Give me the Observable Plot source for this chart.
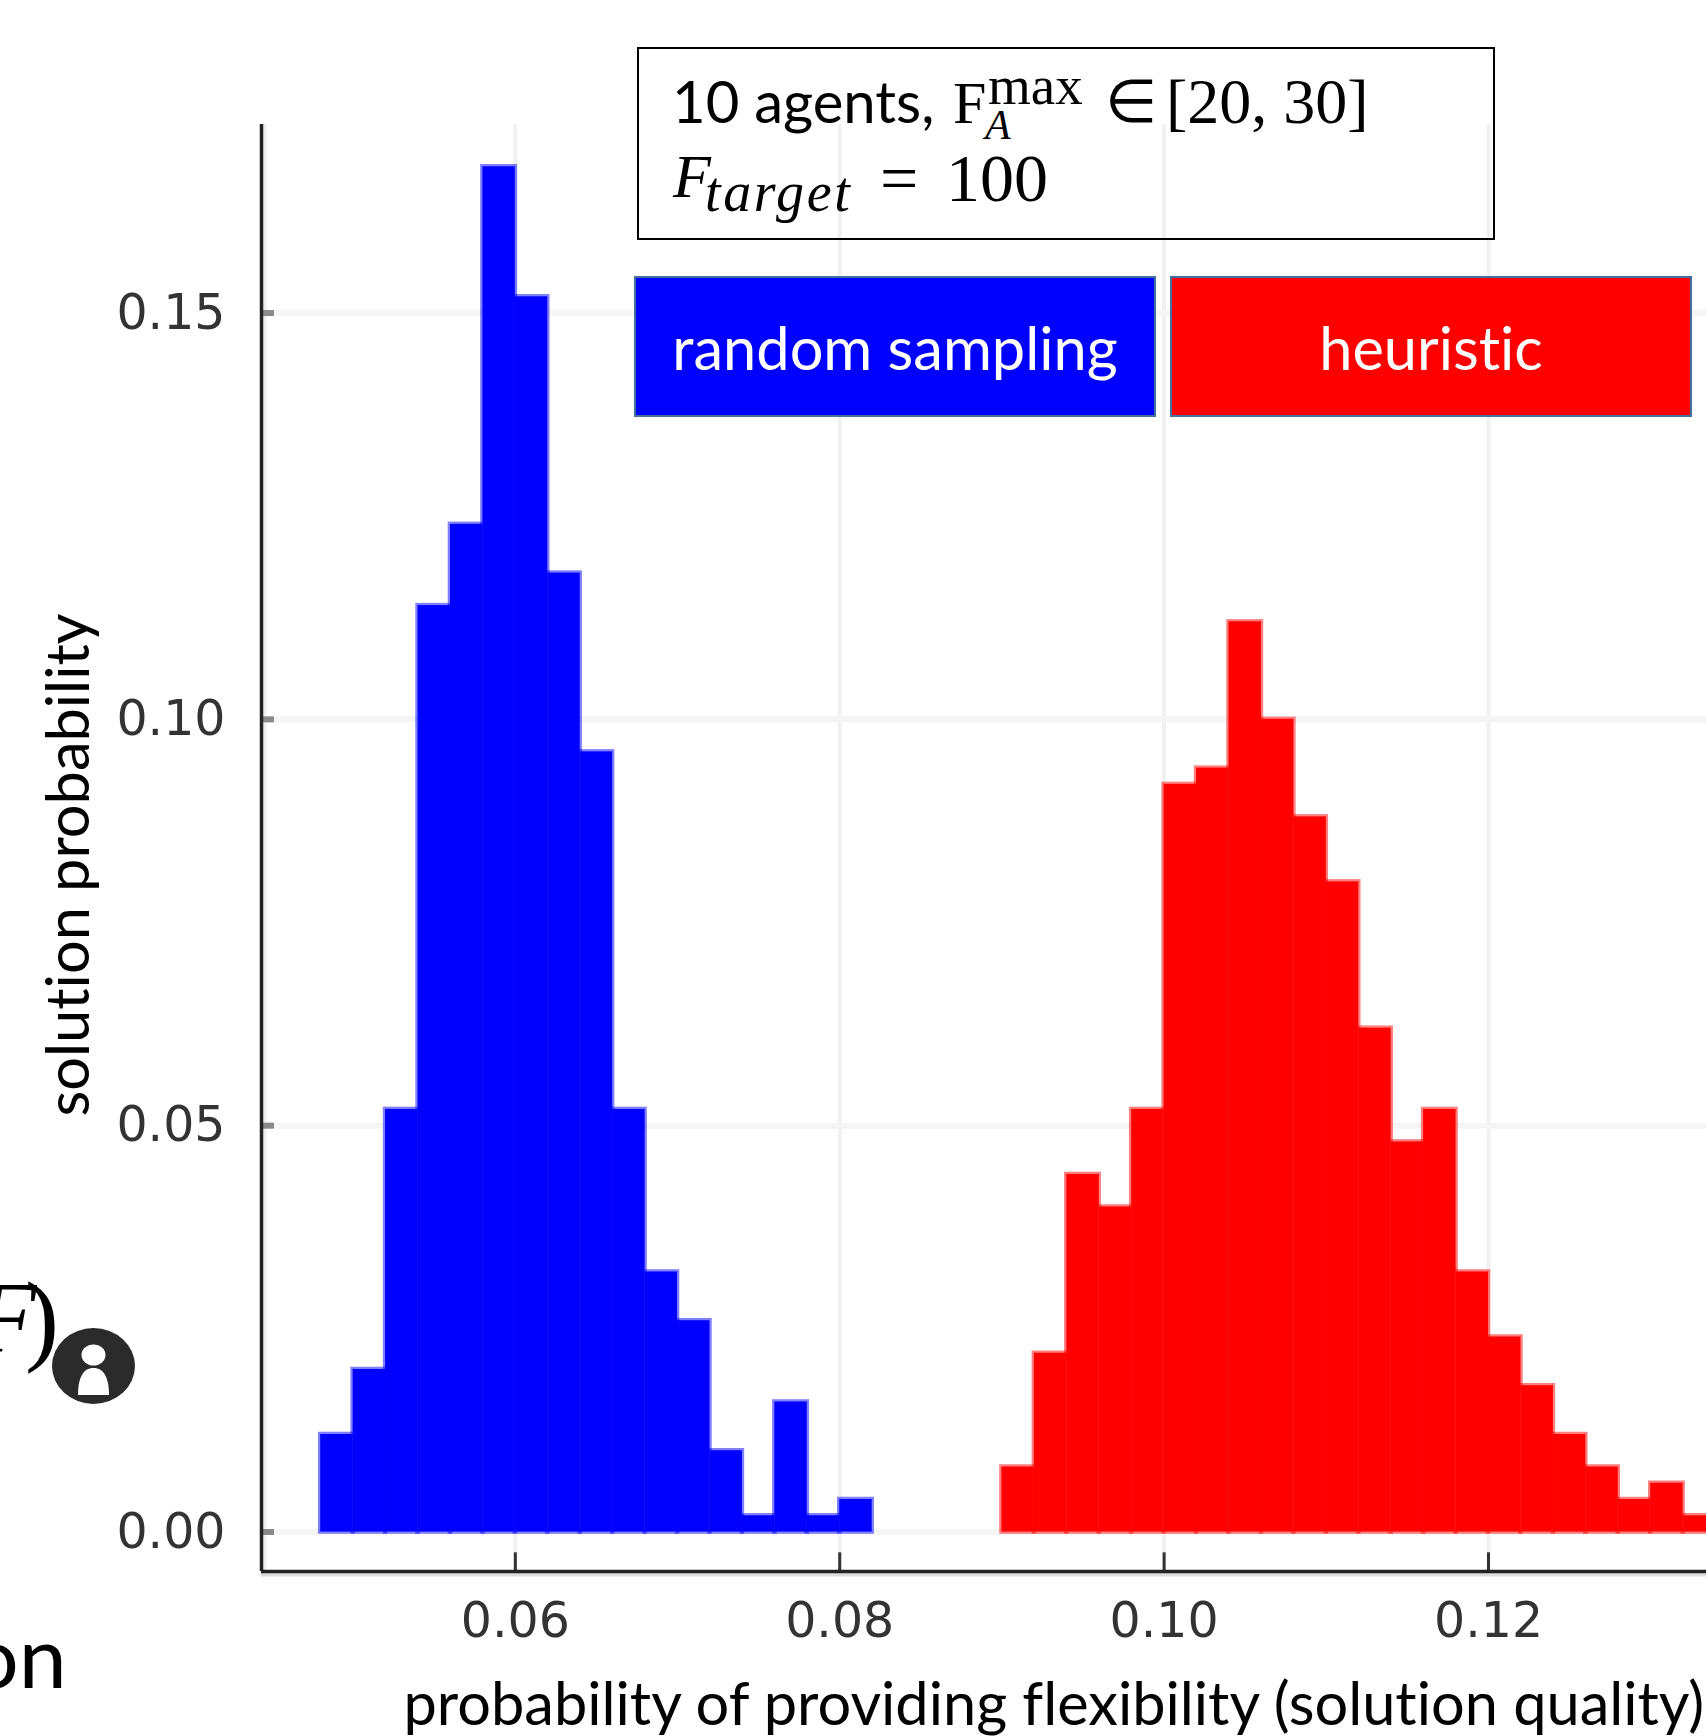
<!DOCTYPE html>
<html>
<head>
<meta charset="utf-8">
<script src="https://cdn.jsdelivr.net/npm/d3@7"></script>
<script src="https://cdn.jsdelivr.net/npm/@observablehq/plot@0.6"></script>
<style>
  html, body { margin: 0; padding: 0; background: #fff; width: 1706px; height: 1736px; overflow: hidden; font-variant-ligatures: none; }
  #wrap { position: relative; width: 1706px; height: 1736px; overflow: hidden; }
  #wrap svg.plot, #chart svg { display: block; max-width: none; font-variant-ligatures: none; }
  .ov { position: absolute; white-space: nowrap; color: #000; line-height: 1; }
  .sans { font-family: Lato, "Open Sans", sans-serif; }
  .math { font-family: "Liberation Serif", serif; }
  .legend { position: absolute; box-sizing: border-box; border: 2px solid #41719c; color: #fff;
            display: flex; align-items: center; justify-content: center;
            font-family: Lato, sans-serif; font-size: 59.5px; }
  #box { position: absolute; left: 637px; top: 47px; width: 858px; height: 193px; box-sizing: border-box; border: 2.5px solid #000; }
</style>
</head>
<body>
<div id="wrap">
  <div id="chart"></div>
  <div id="box"></div>
  <div class="ov sans" style="left:672px;top:72px;font-size:58px">10 agents,</div>
  <div class="ov math" style="left:953px;top:73px;font-size:60px">F</div>
  <div class="ov math" style="left:988px;top:58px;font-size:55px">max</div>
  <div class="ov math" style="left:985px;top:104px;font-size:42px;font-style:italic">A</div>
  <div class="ov math" style="left:1105px;top:72px;font-size:60px">∈</div>
  <div class="ov math" style="left:1166px;top:70px;font-size:64px">[20, 30]</div>
  <div class="ov math" style="left:673px;top:145px;font-size:62px;font-style:italic">F</div>
  <div class="ov math" style="left:705px;top:164px;font-size:56px;font-style:italic;letter-spacing:2.6px">target</div>
  <div class="ov math" style="left:880px;top:144px;font-size:68px">=</div>
  <div class="ov math" style="left:946px;top:144px;font-size:68px">100</div>
  <div class="legend" style="left:634px;top:276px;width:522px;height:141px;background:#0000ff">random sampling</div>
  <div class="legend" style="left:1170px;top:276px;width:522px;height:141px;background:#ff0000">heuristic</div>
  <div class="ov math" style="left:-26px;top:1267px;font-size:102px;font-style:italic">F</div>
  <div class="ov math" style="left:25px;top:1267px;font-size:102px">)</div>
  <div class="ov sans" style="left:-30px;top:1612px;font-size:86px">on</div>
  <svg style="position:absolute;left:50px;top:1326px" width="88" height="80" viewBox="0 0 88 80">
    <ellipse cx="43.5" cy="40" rx="41.5" ry="38" fill="#2b2b2b"/>
    <ellipse cx="43.5" cy="29" rx="12" ry="10.5" fill="#fff"/>
    <path d="M28 69 C28 52 33 42 43.5 42 C54 42 59 52 59 69 Z" fill="#fff"/>
  </svg>
</div>
<script>
// Bin left edges and probabilities
const binWidth = 0.002;
const randomBinStart = [0.048,0.050,0.052,0.054,0.056,0.058,0.060,0.062,0.064,0.066,0.068,0.070,0.072,0.074,0.076,0.078,0.080];
const randomValues   = [0.012,0.020,0.052,0.114,0.124,0.168,0.152,0.118,0.096,0.052,0.032,0.026,0.010,0.002,0.016,0.002,0.004];
const heuristicBinStart = [0.090,0.092,0.094,0.096,0.098,0.100,0.102,0.104,0.106,0.108,0.110,0.112,0.114,0.116,0.118,0.120,0.122,0.124,0.126,0.128,0.130,0.132];
const heuristicValues   = [0.008,0.022,0.044,0.040,0.052,0.092,0.094,0.112,0.100,0.088,0.080,0.062,0.048,0.052,0.032,0.024,0.018,0.012,0.008,0.004,0.006,0.002];
const xTicks = [0.06,0.08,0.10,0.12];
const yTicks = [0.00,0.05,0.10,0.15];
const xLabel = "probability of providing flexibility (solution quality)";
const yLabel = "solution probability";
const xDomain = [0.04435, 0.13344];
const yDomain = [-0.00486, 0.1732];

const toRows = (starts, vals) => starts.map((s, i) => ({x1: s, x2: s + binWidth, y: vals[i]}));
const randomRows = toRows(randomBinStart, randomValues);
const heuristicRows = toRows(heuristicBinStart, heuristicValues);

const xTickLen = 0.0023, yTickLen = 0.0008;

const chart = Plot.plot({
  width: 1706, height: 1736,
  marginLeft: 261, marginRight: 0, marginTop: 124, marginBottom: 165,
  style: {background: "transparent", overflow: "hidden"},
  x: {domain: xDomain},
  y: {domain: yDomain},
  marks: [
    // grid
    Plot.ruleX(xTicks, {stroke: "#f1f1f1", strokeWidth: 4}),
    Plot.ruleY(yTicks, {stroke: "#f5f5f5", strokeWidth: 6}),
    // histograms
    Plot.rectY(randomRows, {x1: "x1", x2: "x2", y: "y", fill: "#0000ff", stroke: "#0000ff", strokeOpacity: 0.5, strokeWidth: 4.5, inset: 0, clip: true}),
    Plot.rectY(heuristicRows, {x1: "x1", x2: "x2", y: "y", fill: "#ff0000", stroke: "#ff0000", strokeOpacity: 0.5, strokeWidth: 4.5, inset: 0, clip: true}),
    // axis shadow and lines
    Plot.ruleY([yDomain[0]], {stroke: "#dcdcdc", strokeWidth: 4, dy: 3}),
    Plot.ruleX([xDomain[0]], {stroke: "#eeeeee", strokeWidth: 4, dx: 3}),
    Plot.ruleX(xTicks, {y1: yDomain[0], y2: yDomain[0] + xTickLen, stroke: "#333", strokeWidth: 3}),
    Plot.ruleY(yTicks, {x1: xDomain[0], x2: xDomain[0] + yTickLen, stroke: "#8a8a8a", strokeWidth: 6}),
    Plot.ruleY([yDomain[0]], {stroke: "#222", strokeWidth: 3.5}),
    Plot.ruleX([xDomain[0]], {stroke: "#222", strokeWidth: 3.5}),
    // axes
    Plot.axisX({ticks: xTicks, tickFormat: d3.format(".2f"), tickSize: 0, tickPadding: 31, label: null,
      fontSize: 49, fontFamily: "DejaVu Sans", color: "#333"}),
    Plot.axisY({ticks: yTicks, tickFormat: d3.format(".2f"), tickSize: 0, tickPadding: 36, label: null,
      fontSize: 49, fontFamily: "DejaVu Sans", color: "#333"}),
    // axis titles
    Plot.text([xLabel], {frameAnchor: "bottom-left", dx: 142, dy: 153, textAnchor: "start", lineAnchor: "bottom",
      fontSize: 59.5, fontFamily: "Lato", fill: "#000", text: d => d}),
    Plot.text([yLabel], {frameAnchor: "left", dx: -192, dy: 17, rotate: -90, textAnchor: "middle",
      fontSize: 59.5, fontFamily: "Lato", fill: "#000", text: d => d})
  ]
});
document.getElementById("chart").appendChild(chart);
</script>
</body>
</html>
